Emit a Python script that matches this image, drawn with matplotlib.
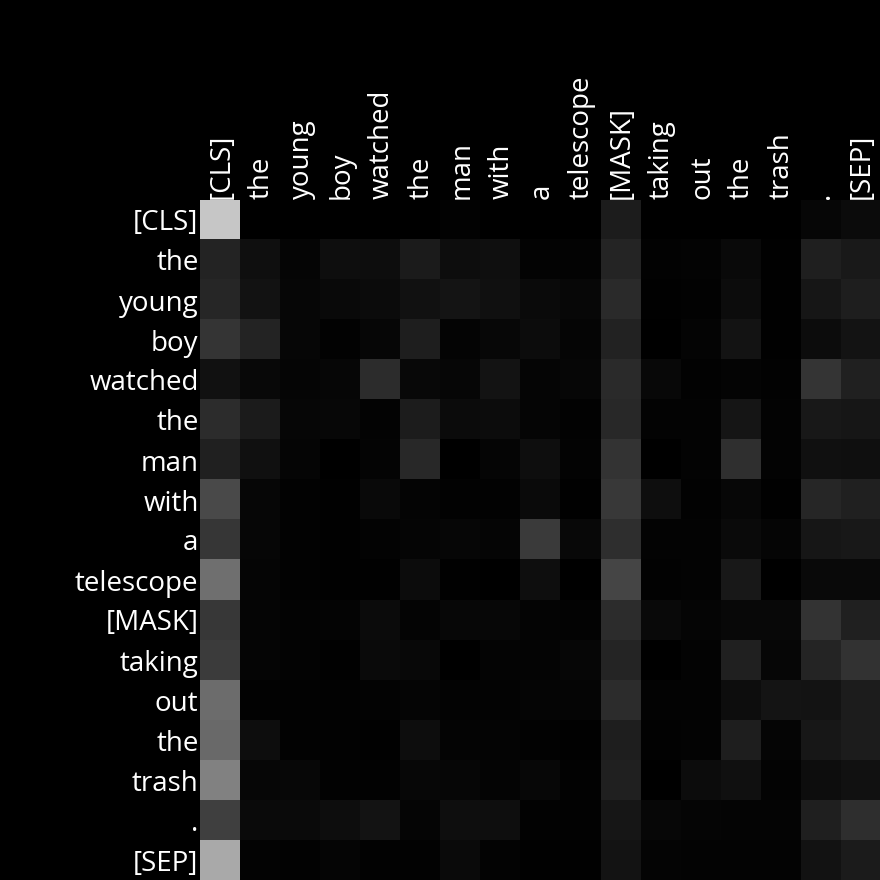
import numpy as np
import matplotlib.pyplot as plt
import matplotlib.transforms as mtransforms

tokens = ["[CLS]", "the", "young", "boy", "watched", "the", "man", "with", "a",
          "telescope", "[MASK]", "taking", "out", "the", "trash", ".", "[SEP]"]

# attention intensity per cell (0-255 grey level)
attention = [
    [0xc6, 0x00, 0x00, 0x00, 0x00, 0x00, 0x02, 0x00, 0x00, 0x00, 0x1c, 0x00, 0x00, 0x00, 0x00, 0x06, 0x0b],
    [0x23, 0x0f, 0x05, 0x0e, 0x0d, 0x1b, 0x0d, 0x0f, 0x03, 0x03, 0x24, 0x02, 0x03, 0x09, 0x01, 0x1f, 0x19],
    [0x26, 0x12, 0x06, 0x09, 0x0b, 0x11, 0x14, 0x10, 0x0a, 0x07, 0x2a, 0x01, 0x02, 0x0c, 0x01, 0x16, 0x1e],
    [0x35, 0x23, 0x06, 0x02, 0x06, 0x1e, 0x04, 0x07, 0x0c, 0x05, 0x22, 0x00, 0x04, 0x13, 0x01, 0x0c, 0x13],
    [0x11, 0x08, 0x05, 0x06, 0x2c, 0x08, 0x06, 0x13, 0x05, 0x06, 0x2a, 0x08, 0x02, 0x04, 0x02, 0x35, 0x21],
    [0x2c, 0x1b, 0x06, 0x07, 0x03, 0x1c, 0x0b, 0x0c, 0x05, 0x02, 0x29, 0x03, 0x03, 0x15, 0x03, 0x18, 0x16],
    [0x20, 0x10, 0x05, 0x00, 0x04, 0x29, 0x00, 0x05, 0x0e, 0x03, 0x33, 0x00, 0x03, 0x2f, 0x03, 0x10, 0x0f],
    [0x4a, 0x06, 0x02, 0x01, 0x09, 0x04, 0x02, 0x02, 0x0a, 0x01, 0x39, 0x0e, 0x02, 0x07, 0x01, 0x26, 0x20],
    [0x36, 0x06, 0x02, 0x01, 0x03, 0x05, 0x06, 0x05, 0x3a, 0x08, 0x2e, 0x03, 0x03, 0x0a, 0x05, 0x16, 0x18],
    [0x6f, 0x05, 0x02, 0x01, 0x01, 0x0c, 0x01, 0x00, 0x0e, 0x00, 0x45, 0x02, 0x03, 0x18, 0x00, 0x09, 0x09],
    [0x37, 0x05, 0x03, 0x04, 0x0b, 0x04, 0x07, 0x07, 0x04, 0x03, 0x2d, 0x09, 0x05, 0x08, 0x08, 0x33, 0x20],
    [0x3b, 0x05, 0x03, 0x01, 0x0a, 0x08, 0x00, 0x04, 0x04, 0x06, 0x25, 0x00, 0x03, 0x20, 0x06, 0x24, 0x32],
    [0x6c, 0x02, 0x02, 0x02, 0x03, 0x05, 0x03, 0x03, 0x05, 0x05, 0x2c, 0x03, 0x03, 0x0d, 0x14, 0x13, 0x1c],
    [0x69, 0x0d, 0x02, 0x02, 0x01, 0x0d, 0x04, 0x04, 0x02, 0x01, 0x1e, 0x02, 0x03, 0x1e, 0x05, 0x17, 0x1c],
    [0x81, 0x06, 0x07, 0x02, 0x02, 0x07, 0x06, 0x04, 0x07, 0x02, 0x20, 0x00, 0x0c, 0x10, 0x03, 0x0d, 0x11],
    [0x3f, 0x0a, 0x0a, 0x0d, 0x13, 0x05, 0x0e, 0x0e, 0x02, 0x02, 0x16, 0x07, 0x05, 0x04, 0x04, 0x1f, 0x2e],
    [0xa9, 0x03, 0x02, 0x05, 0x02, 0x02, 0x0a, 0x03, 0x01, 0x01, 0x13, 0x04, 0x03, 0x03, 0x03, 0x12, 0x1b],
]

plt.rcParams['font.family'] = ['Open Sans', 'DejaVu Sans']

fig = plt.figure(figsize=(8.8, 8.8), dpi=100, facecolor='black')
ax = fig.add_axes([200 / 880, 0, 680 / 880, 680 / 880])
ax.set_facecolor('black')

ax.imshow(np.array(attention) / 255.0, cmap='gray', vmin=0, vmax=1,
          aspect='auto', interpolation='nearest')

n = len(tokens)
ax.xaxis.tick_top()
ax.set_xticks(range(n))
ax.set_xticklabels(tokens, rotation=90, color='white', fontsize=20)
ax.set_yticks(range(n))
ax.set_yticklabels(tokens, color='white', fontsize=20)
ax.tick_params(length=0, pad=1)
for s in ax.spines.values():
    s.set_visible(False)

# nudge the rotated column labels a couple of pixels right
shift = mtransforms.ScaledTranslation(2 / 100, 0, fig.dpi_scale_trans)
for lbl in ax.get_xticklabels():
    lbl.set_transform(lbl.get_transform() + shift)

fig.savefig("out.png", facecolor='black')
